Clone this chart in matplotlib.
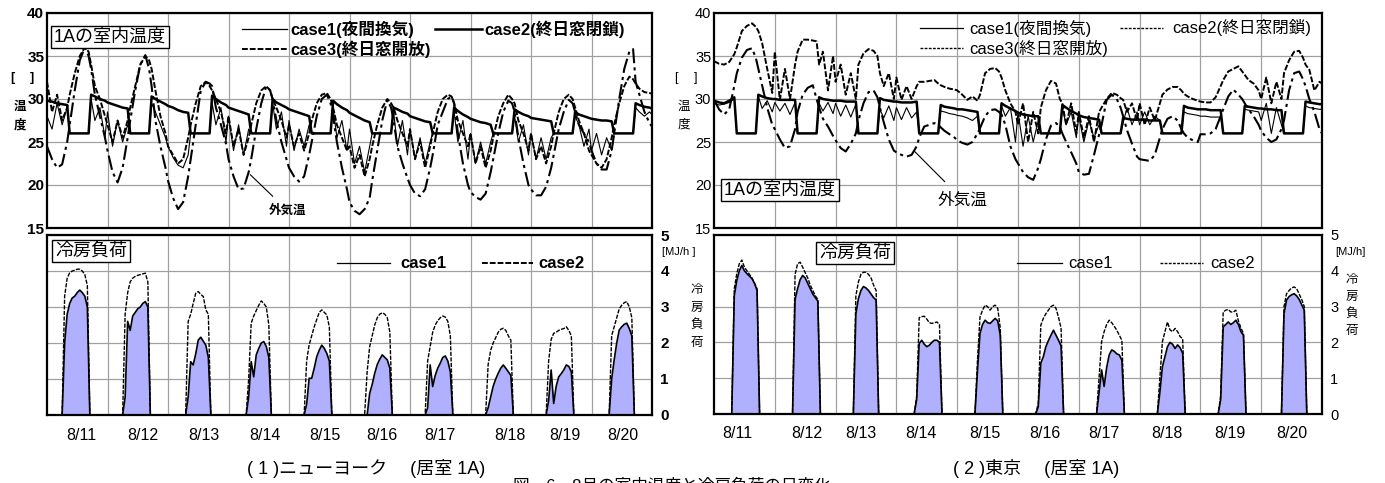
import matplotlib.pyplot as plt
from matplotlib.lines import Line2D

plt.rcParams['font.family'] = ['Liberation Sans', 'Noto Sans CJK JP', 'DejaVu Sans']

# ---- data ---------------------------------------------------------------
# room temperature, sampled at these hours of each day (8/11 .. 8/20)
temp_hours = [0, 2, 4, 6, 8, 9, 11, 13, 15, 16.5, 17.5, 19, 21, 23]
# cooling load, sampled at these hours of each day
load_hours = [6, 7, 8, 9, 10, 11, 12, 13, 14, 15, 16, 17, 18]
days = ['8/11', '8/12', '8/13', '8/14', '8/15', '8/16', '8/17', '8/18', '8/19', '8/20']

# New York
ny_out = [24.5, 23.0, 22.0, 22.4, 25.0, 27.0, 31.0, 34.5, 36.0, 35.0, 33.5, 30.5, 28.0, 25.5,
          24.0, 21.5, 20.3, 22.0, 25.5, 27.5, 31.0, 34.0, 35.1, 33.5, 31.5, 27.5, 24.5, 22.0,
          20.5, 18.5, 17.2, 18.0, 21.0, 23.0, 27.0, 31.0, 32.0, 31.8, 31.5, 29.0, 27.0, 24.8,
          23.0, 21.0, 19.5, 19.6, 21.5, 23.0, 26.5, 29.5, 31.5, 31.0, 30.0, 27.5, 25.0, 23.0,
          22.0, 21.0, 20.4, 21.0, 23.5, 25.0, 28.0, 30.0, 30.5, 29.5, 28.0, 25.0, 22.0, 19.5,
          18.0, 17.0, 16.6, 17.2, 18.5, 20.5, 24.0, 27.5, 29.9, 29.0, 27.5, 24.5, 22.5, 20.8,
          20.0, 19.0, 18.7, 19.5, 22.0, 23.5, 27.0, 28.5, 30.0, 30.3, 29.5, 26.0, 22.5, 20.0,
          19.2, 18.6, 18.3, 19.0, 21.5, 23.0, 26.0, 28.5, 29.8, 29.5, 28.5, 25.5, 22.5, 20.0,
          19.5, 18.8, 18.8, 19.8, 22.0, 23.5, 26.5, 28.5, 29.9, 29.5, 28.5, 27.0, 26.0, 25.0,
          24.0, 22.5, 21.8, 21.8, 24.0, 26.0, 30.0, 33.5, 35.5, 35.8, 32.0, 30.5, 28.5, 27.2,
          26.8]
ny_c3 = [32.0, 28.5, 30.5, 27.5, 29.0, 30.5, 33.0, 35.0, 36.0, 35.5, 34.0, 31.5, 30.0, 28.0,
         27.0, 25.0, 27.5, 25.5, 27.5, 29.0, 31.5, 34.0, 35.0, 34.5, 33.5, 31.0, 28.0, 26.0,
         24.5, 23.5, 22.5, 23.0, 25.5, 27.0, 29.5, 31.5, 32.0, 31.5, 31.0, 30.0, 28.5, 26.0,
         28.0, 24.5, 26.5, 23.5, 25.5, 27.0, 29.5, 31.0, 31.5, 31.0, 30.0, 29.0, 27.5, 25.5,
         27.0, 24.5, 26.0, 24.0, 26.0, 27.5, 29.5, 30.5, 30.7, 30.0, 29.0, 27.0, 25.5, 24.0,
         24.5, 22.0, 23.5, 21.0, 23.0, 24.5, 27.0, 29.0, 30.0, 29.5, 29.0, 27.5, 26.0, 24.5,
         26.5, 23.0, 25.0, 22.0, 24.5, 26.0, 28.5, 30.0, 30.5, 30.3, 29.5, 27.5, 26.0, 24.5,
         26.0, 22.5, 24.5, 22.0, 24.0, 25.5, 28.0, 29.5, 30.5, 30.0, 29.5, 27.5, 26.0, 24.0,
         26.0, 23.0, 24.5, 22.5, 24.5, 26.0, 28.5, 30.0, 30.5, 30.0, 29.0, 27.5, 26.0, 24.0,
         23.5, 22.5, 22.0, 23.0, 25.5, 27.0, 29.5, 31.5, 32.6, 32.3, 31.8, 31.2, 30.8, 30.7,
         30.6]
ny_c2 = [29.8, 29.7, 29.5, 29.4, 29.3, 26, 26, 26, 26, 26, 30.5, 30.3, 30.0, 29.8,
         29.6, 29.4, 29.2, 29.0, 28.9, 26, 26, 26, 26, 26, 30.3, 30.0, 29.7, 29.4,
         29.2, 29.0, 28.7, 28.5, 28.4, 26, 26, 26, 26, 26, 30.4, 30.0, 29.6, 29.3,
         29.0, 28.8, 28.6, 28.4, 28.2, 26, 26, 26, 26, 26, 30.0, 29.6, 29.3, 29.0,
         28.8, 28.6, 28.4, 28.2, 28.0, 26, 26, 26, 26, 26, 29.8, 29.4, 29.0, 28.7,
         28.4, 28.1, 27.8, 27.5, 27.3, 26, 26, 26, 26, 26, 29.0, 28.8, 28.5, 28.3,
         28.0, 27.8, 27.6, 27.4, 27.3, 26, 26, 26, 26, 26, 29.0, 28.6, 28.2, 27.9,
         27.7, 27.5, 27.3, 27.2, 27.0, 26, 26, 26, 26, 26, 28.8, 28.5, 28.2, 28.0,
         27.8, 27.7, 27.6, 27.5, 27.4, 26, 26, 26, 26, 26, 28.5, 28.2, 28.0, 27.8,
         27.7, 27.6, 27.5, 27.5, 27.4, 26, 26, 26, 26, 26, 29.5, 29.3, 29.1, 29.0,
         28.9]
ny_c1 = [28.0, 26.5, 29.5, 27.0, 29.0, 26, 26, 26, 26, 26, 30.0, 27.5, 29.0, 25.5,
         28.5, 24.5, 27.5, 25.0, 27.0, 26, 26, 26, 26, 26, 29.5, 28.5, 27.0, 25.5,
         24.5, 23.2, 22.3, 22.0, 23.5, 26, 26, 26, 26, 26, 29.5, 27.0, 29.0, 25.0,
         28.0, 24.0, 27.0, 23.5, 26.5, 26, 26, 26, 26, 26, 29.5, 26.5, 28.5, 24.5,
         27.5, 24.0, 26.5, 24.5, 27.0, 26, 26, 26, 26, 26, 29.0, 25.5, 27.5, 24.0,
         26.5, 22.5, 24.5, 21.5, 24.5, 26, 26, 26, 26, 26, 28.5, 24.5, 27.5, 23.5,
         26.5, 23.0, 25.5, 22.5, 25.0, 26, 26, 26, 26, 26, 28.5, 25.0, 27.5, 23.0,
         26.0, 22.5, 25.0, 22.5, 25.0, 26, 26, 26, 26, 26, 28.0, 25.0, 27.0, 23.5,
         26.0, 23.0, 25.5, 23.0, 25.5, 26, 26, 26, 26, 26, 28.0, 27.0, 24.5, 26.5,
         24.0, 26.0, 23.5, 25.5, 24.0, 26, 26, 26, 26, 26, 29.0, 28.5, 28.0, 28.5,
         28.2]
ny_load1 = [0, 2.0, 2.8, 3.1, 3.25, 3.3, 3.4, 3.47, 3.4, 3.3, 3.0, 0, 0,
            0, 0.5, 2.6, 2.35, 2.75, 2.85, 2.95, 3.0, 3.1, 3.15, 3.0, 0, 0,
            0, 0, 0.5, 1.48, 1.39, 1.7, 2.08, 2.16, 2.05, 1.94, 1.6, 0, 0,
            0, 0, 0.5, 1.48, 1.06, 1.67, 1.85, 2.0, 2.04, 1.9, 1.6, 0, 0,
            0, 0.3, 1.02, 1.02, 1.3, 1.62, 1.8, 1.94, 1.85, 1.71, 1.5, 0, 0,
            0, 0, 0.6, 0.85, 1.16, 1.4, 1.55, 1.67, 1.6, 1.53, 1.3, 0, 0,
            0, 0.2, 1.39, 0.79, 1.1, 1.3, 1.44, 1.6, 1.64, 1.5, 1.2, 0, 0,
            0, 0.2, 0.5, 0.8, 1.0, 1.16, 1.3, 1.39, 1.3, 1.2, 1.1, 0, 0,
            0, 0.4, 1.25, 0.32, 0.8, 1.06, 1.15, 1.25, 1.39, 1.35, 1.2, 0, 0,
            0, 0, 1.0, 1.53, 2.0, 2.36, 2.45, 2.52, 2.55, 2.4, 2.2, 0, 0]
ny_load2 = [0, 3.3, 3.8, 3.95, 4.0, 4.02, 4.05, 4.05, 4.0, 3.9, 3.6, 0, 0,
            0, 2.8, 3.4, 3.7, 3.8, 3.85, 3.88, 3.9, 3.92, 3.94, 3.7, 0, 0,
            0, 0, 2.6, 2.8, 3.1, 3.38, 3.43, 3.35, 3.29, 2.92, 2.8, 0, 0,
            0, 0, 1.0, 2.55, 2.75, 2.9, 3.05, 3.17, 3.1, 3.0, 2.5, 0, 0,
            0, 1.5, 1.95, 2.2, 2.45, 2.65, 2.85, 2.92, 2.85, 2.78, 2.45, 0, 0,
            0, 1.2, 1.9, 2.2, 2.5, 2.7, 2.8, 2.84, 2.8, 2.7, 2.3, 0, 0,
            0, 1.5, 1.9, 2.3, 2.5, 2.62, 2.7, 2.75, 2.72, 2.6, 2.2, 0, 0,
            0, 1.4, 1.8, 2.0, 2.15, 2.3, 2.38, 2.41, 2.35, 2.2, 2.08, 0, 0,
            0, 1.5, 2.1, 2.27, 2.3, 2.35, 2.38, 2.4, 2.45, 2.35, 2.2, 0, 0,
            0, 0, 2.2, 2.45, 2.7, 2.95, 3.05, 3.12, 3.15, 3.0, 2.7, 0, 0]

# Tokyo
tk_out = [29.9, 28.8, 28.2, 28.8, 31.5, 33.0, 34.8, 35.7, 35.9, 34.8, 33.5, 31.5, 29.0, 27.0,
          26.5, 25.3, 24.3, 24.5, 26.5, 28.5, 30.5, 31.3, 31.6, 30.0, 29.0, 27.7, 26.8, 25.7,
          25.2, 24.3, 23.9, 24.8, 26.0, 27.5, 29.5, 30.8, 31.0, 30.2, 29.0, 27.3, 25.3, 24.0,
          23.8, 23.5, 23.3, 23.5, 24.5, 25.5, 26.8, 27.0, 27.2, 27.0, 26.7, 26.3, 25.9, 25.5,
          25.2, 24.9, 24.7, 25.0, 26.0, 26.6, 28.0, 28.7, 28.8, 28.5, 28.2, 27.0, 24.5, 23.0,
          22.5, 21.5, 20.9, 20.6, 22.0, 23.0, 25.3, 26.9, 27.2, 26.8, 26.0, 25.0, 23.8, 22.5,
          21.5, 21.2, 21.3, 23.5, 25.8, 27.0, 29.9, 30.5, 30.0, 29.0, 28.0, 26.4, 24.8, 23.3,
          23.0, 22.9, 22.8, 23.5, 25.5, 26.5, 27.7, 28.0, 27.5, 26.5, 26.0, 25.5, 25.2, 25.0,
          25.9, 25.9, 26.0, 26.5, 28.0, 28.8, 30.3, 31.1, 30.5, 30.0, 29.5, 28.8, 28.0, 27.0,
          26.3, 25.5, 25.0, 25.3, 26.5, 27.5, 31.0, 33.0, 33.2, 32.3, 31.5, 30.0, 28.5, 26.5,
          26.0]
tk_c3 = [34.4, 34.1, 34.0, 34.3, 35.2, 36.0, 37.9, 38.5, 38.8, 38.4, 37.9, 36.5, 33.5, 30.7,
         35.5, 29.9, 33.5, 30.0, 34.0, 35.5, 36.9, 36.9, 36.8, 36.7, 34.0, 35.5, 31.0, 35.0,
         32.0, 34.0, 30.5, 33.0, 30.0, 34.0, 35.3, 35.8, 35.6, 35.0, 33.0, 31.5, 33.0, 30.0,
         32.5, 29.9, 31.5, 30.0, 31.5, 32.0, 32.0, 32.1, 32.2, 31.8, 31.6, 31.4, 31.2, 31.1,
         31.0, 30.5, 29.9, 30.3, 29.8, 30.5, 33.0, 33.5, 33.6, 33.2, 32.5, 31.0, 29.5, 28.5,
         27.0, 29.5, 25.0, 28.5, 26.0, 29.0, 31.0, 32.1, 31.8, 30.0, 29.5, 27.0, 29.5, 26.0,
         28.5, 25.5, 28.0, 25.0, 28.5, 29.0, 30.0, 30.7, 30.5, 30.1, 29.9, 28.5, 29.5, 27.5,
         29.5, 27.0, 29.0, 27.5, 29.5, 30.5, 31.1, 31.4, 31.4, 31.0, 30.6, 30.3, 30.0, 29.8,
         29.7, 29.6, 29.6, 30.2, 31.5, 32.2, 33.2, 33.5, 33.8, 33.2, 32.8, 32.2, 31.8, 31.0,
         30.0, 32.5, 29.5, 32.0, 30.0, 33.0, 34.5, 35.5, 35.6, 34.8, 34.0, 33.4, 31.0, 32.0,
         31.8]
tk_c2 = [29.8, 29.6, 29.5, 29.8, 30.2, 26, 26, 26, 26, 26, 30.5, 30.3, 30.1, 30.0,
         30.0, 29.9, 29.9, 29.9, 29.9, 26, 26, 26, 26, 26, 30.2, 30.0, 29.9, 29.8,
         29.8, 29.8, 29.7, 29.7, 29.7, 26, 26, 26, 26, 26, 30.1, 29.9, 29.8, 29.7,
         29.7, 29.6, 29.6, 29.6, 29.7, 26, 26, 26, 26, 26, 29.3, 29.1, 29.0, 28.9,
         28.8, 28.8, 28.7, 28.6, 28.5, 26, 26, 26, 26, 26, 29.5, 29.2, 28.9, 28.6,
         28.4, 28.2, 28.1, 28.0, 28.0, 26, 26, 26, 26, 26, 29.3, 29.0, 28.6, 28.3,
         28.1, 27.9, 27.8, 27.7, 27.6, 26, 26, 26, 26, 26, 27.8, 27.7, 27.6, 27.6,
         27.6, 27.6, 27.5, 27.5, 27.5, 26, 26, 26, 26, 26, 29.2, 29.0, 28.9, 28.8,
         28.8, 28.8, 28.7, 28.7, 28.7, 26, 26, 26, 26, 26, 29.2, 29.1, 29.0, 28.9,
         28.9, 28.8, 28.8, 28.7, 28.7, 26, 26, 26, 26, 26, 29.7, 29.6, 29.5, 29.4,
         29.4]
tk_c1 = [29.5, 29.3, 29.4, 29.6, 30.0, 26, 26, 26, 26, 26, 30.3, 28.9, 29.8, 28.5,
         29.6, 28.6, 29.5, 28.2, 29.6, 26, 26, 26, 26, 26, 29.5, 28.6, 29.6, 28.3,
         29.5, 28.0, 29.3, 27.9, 29.4, 26, 26, 26, 26, 26, 28.8, 27.8, 29.2, 27.5,
         29.0, 27.6, 29.0, 27.8, 28.5, 26, 26, 26, 26, 26, 28.6, 28.5, 28.3, 28.2,
         28.1, 28.0, 27.8, 27.5, 28.0, 26, 26, 26, 26, 26, 29.2, 28.0, 29.0, 25.0,
         28.5, 24.5, 28.0, 25.0, 27.5, 26, 26, 26, 26, 26, 29.0, 27.0, 28.5, 25.5,
         28.0, 25.0, 27.5, 25.5, 27.0, 26, 26, 26, 26, 26, 27.2, 29.0, 27.0, 28.5,
         27.0, 28.5, 27.0, 28.0, 27.5, 26, 26, 26, 26, 26, 28.5, 28.3, 28.2, 28.1,
         28.0, 28.0, 27.9, 27.9, 27.9, 26, 26, 26, 26, 26, 28.8, 28.7, 28.6, 28.5,
         27.5, 29.5, 26.0, 29.0, 27.0, 26, 26, 26, 26, 26, 29.2, 29.0, 28.9, 28.8,
         28.8]
tk_load1 = [0, 0, 3.3, 3.73, 4.0, 4.15, 4.0, 3.92, 3.85, 3.78, 3.65, 3.45, 0,
            0, 0, 3.2, 3.5, 3.75, 3.87, 3.8, 3.65, 3.5, 3.35, 3.25, 3.15, 0,
            0, 0, 2.8, 3.22, 3.45, 3.56, 3.52, 3.45, 3.35, 3.25, 3.18, 0, 0,
            0, 0, 0.4, 1.97, 2.06, 1.95, 1.88, 1.92, 2.0, 2.06, 2.06, 2.0, 0,
            0, 0, 1.2, 2.25, 2.5, 2.62, 2.55, 2.53, 2.6, 2.67, 2.6, 2.2, 0,
            0, 0, 0.2, 1.42, 1.6, 1.88, 2.05, 2.2, 2.34, 2.2, 2.06, 1.9, 0,
            0, 0, 0.6, 1.23, 0.77, 1.3, 1.65, 1.79, 1.75, 1.68, 1.65, 1.5, 0,
            0, 0, 0.6, 1.32, 1.6, 1.88, 2.0, 1.95, 1.83, 1.93, 1.85, 1.7, 0,
            0, 0, 0.4, 2.43, 2.5, 2.57, 2.5, 2.55, 2.62, 2.5, 2.3, 2.2, 0,
            0, 0, 0, 2.8, 3.18, 3.28, 3.33, 3.36, 3.3, 3.2, 3.05, 2.9, 0]
tk_load2 = [0, 0, 3.5, 3.92, 4.2, 4.3, 4.1, 4.0, 3.9, 3.8, 3.65, 3.5, 0,
            0, 0, 3.9, 4.2, 4.24, 4.1, 3.95, 3.8, 3.6, 3.45, 3.3, 3.2, 0,
            0, 0, 3.3, 3.69, 3.9, 3.96, 3.96, 3.9, 3.8, 3.6, 3.45, 0, 0,
            0, 0, 0.5, 2.69, 2.72, 2.73, 2.65, 2.55, 2.53, 2.55, 2.57, 2.5, 0,
            0, 0, 1.5, 2.71, 2.9, 3.04, 3.0, 2.9, 3.0, 3.04, 2.95, 2.4, 0,
            0, 0, 0.3, 2.48, 2.67, 2.8, 2.9, 3.0, 3.04, 2.95, 2.7, 2.4, 0,
            0, 0, 1.0, 2.02, 2.3, 2.5, 2.62, 2.55, 2.45, 2.34, 2.2, 2.06, 0,
            0, 0, 1.0, 2.02, 2.3, 2.57, 2.35, 2.3, 2.39, 2.3, 2.16, 2.1, 0,
            0, 0, 0.5, 2.85, 2.9, 2.92, 2.85, 2.85, 2.9, 2.6, 2.4, 2.25, 0,
            0, 0, 0, 3.0, 3.36, 3.45, 3.52, 3.55, 3.5, 3.35, 3.2, 3.0, 0]

# ---- layout ---------------------------------------------------------------
W, H = 1385, 483
fig = plt.figure(figsize=(W / 100, H / 100), dpi=100)


def fx(px):
    return px / W


def fy(py):
    return 1 - py / H


def add_ax(x0, x1, y0, y1):
    return fig.add_axes([fx(x0), fy(y1), (x1 - x0) / W, (y1 - y0) / H])


t_temp = [d + h / 24 for d in range(10) for h in temp_hours] + [10]
t_load = [d + h / 24 for d in range(10) for h in load_hours]

GRID = '#a0a0a0'
LAV = '#b0b0ff'


def style_box(ax):
    for s in ax.spines.values():
        s.set_linewidth(1.6)
    ax.set_xlim(0, 10)
    ax.set_xticks(range(1, 10))
    ax.grid(which='major', color=GRID, lw=0.9)
    ax.tick_params(which='both', length=0)
    ax.set_axisbelow(True)


def temp_panel(ax, c1, c2, c3, out, weight, size):
    ax.plot(t_temp, out, color='k', lw=1.5, ls=(0, (7, 2, 1.5, 2)))
    ax.plot(t_temp, c3, color='k', lw=1.4, ls=(0, (3, 1)))
    ax.plot(t_temp, c2, color='k', lw=1.8)
    ax.plot(t_temp, c1, color='k', lw=0.8)
    style_box(ax)
    ax.set_ylim(15, 40)
    ax.set_yticks(range(15, 41, 5))
    ax.set_xticklabels([])
    ax.tick_params(axis='y', pad=2, labelsize=size)
    for lab in ax.get_yticklabels():
        lab.set_fontweight(weight)


def load_panel(ax, l1, l2, label_pos, weight, size):
    ax.fill_between(t_load, l1, color=LAV, lw=0)
    ax.plot(t_load, l2, color='k', lw=1.0, ls=(0, (3, 1)))
    ax.plot(t_load, l1, color='k', lw=1.2)
    style_box(ax)
    ax.set_ylim(0, 5)
    ax.yaxis.tick_right()
    ax.set_yticks(range(0, 6))
    ax.set_xticklabels([])
    ax.set_xticks(label_pos, minor=True)
    ax.set_xticklabels(days, minor=True, fontsize=11.5)
    ax.tick_params(axis='x', which='minor', pad=9)
    ax.tick_params(axis='y', pad=6, labelsize=size)
    for lab in ax.get_yticklabels():
        lab.set_fontweight(weight)


def legend_line(x0, x1, y, **kw):
    fig.add_artist(Line2D([fx(x0), fx(x1)], [fy(y), fy(y)], color='k', **kw))


def ftext(px, py, s, **kw):
    fig.text(fx(px), fy(py), s, **kw)


box = dict(boxstyle='square,pad=0.15', fc='white', ec='black', lw=1.0)

# New York panels
ax1 = add_ax(47, 652, 13, 228)
temp_panel(ax1, ny_c1, ny_c2, ny_c3, ny_out, 'bold', 11)
ax2 = add_ax(47, 652, 235, 415)
load_panel(ax2, ny_load1, ny_load2,
           [0.57, 1.58, 2.59, 3.6, 4.6, 5.54, 6.5, 7.65, 8.56, 9.52], 'bold', 11)

# Tokyo panels
ax3 = add_ax(714, 1322, 13, 228)
temp_panel(ax3, tk_c1, tk_c2, tk_c3, tk_out, 'normal', 10.5)
ax4 = add_ax(714, 1322, 235, 414)
load_panel(ax4, tk_load1, tk_load2,
           [0.39, 1.52, 2.42, 3.4, 4.46, 5.44, 6.41, 7.45, 8.49, 9.51], 'normal', 10.5)

# ---- legends ----------------------------------------------------------------
legend_line(242, 287, 29, lw=0.9)
ftext(290, 29, 'case1(夜間換気)', fontsize=12, fontweight='bold', va='center')
legend_line(435, 482, 29, lw=1.8)
ftext(484, 29, 'case2(終日窓閉鎖)', fontsize=12, fontweight='bold', va='center')
legend_line(242, 287, 49, lw=1.4, ls=(0, (3, 1)))
ftext(290, 49, 'case3(終日窓開放)', fontsize=12, fontweight='bold', va='center')
legend_line(337, 390, 263, lw=0.9)
ftext(400, 263, 'case1', fontsize=12, fontweight='bold', va='center')
legend_line(482, 533, 263, lw=1.4, ls=(0, (3, 1)))
ftext(538, 263, 'case2', fontsize=12, fontweight='bold', va='center')

legend_line(920, 963, 28, lw=0.9)
ftext(969, 28, 'case1(夜間換気)', fontsize=12, va='center')
legend_line(1120, 1163, 28, lw=1.0, ls=(0, (2, 1)))
ftext(1172, 28, 'case2(終日窓閉鎖)', fontsize=12, va='center')
legend_line(920, 963, 48, lw=1.0, ls=(0, (2, 1)))
ftext(969, 48, 'case3(終日窓開放)', fontsize=12, va='center')
legend_line(1017, 1062, 263, lw=0.9)
ftext(1068, 263, 'case1', fontsize=12, va='center')
legend_line(1160, 1203, 263, lw=1.0, ls=(0, (2, 1)))
ftext(1210, 263, 'case2', fontsize=12, va='center')

# ---- panel labels ---------------------------------------------------------
ftext(110, 37, '1Aの室内温度', fontsize=13, ha='center', va='center', bbox=box)
ftext(91, 251, '冷房負荷', fontsize=13, ha='center', va='center', bbox=box)
ftext(780, 190, '1Aの室内温度', fontsize=13, ha='center', va='center', bbox=box)
ftext(855, 253, '冷房負荷', fontsize=13, ha='center', va='center', bbox=box)

ax1.annotate('外気温', xy=(3.36, 21.2), xycoords='data',
             xytext=(fx(288), fy(211)), textcoords='figure fraction',
             fontsize=9, fontweight='bold', ha='center', va='center',
             arrowprops=dict(arrowstyle='-', color='k', lw=0.8, shrinkB=0, shrinkA=6))
ax3.annotate('外気温', xy=(3.3, 23.9), xycoords='data',
             xytext=(fx(963), fy(200)), textcoords='figure fraction',
             fontsize=12, ha='center', va='center',
             arrowprops=dict(arrowstyle='-', color='k', lw=0.8, shrinkB=0, shrinkA=8))

# ---- axis titles -------------------------------------------------------------
for px, wt in ((12, 'bold'), (676, 'normal')):
    ftext(px, 78, '[', fontsize=9, fontweight=wt, ha='center', va='center')
    ftext(px + 20, 78, ']', fontsize=9, fontweight=wt, ha='center', va='center')
    ftext(px + 8, 107, '温', fontsize=9, fontweight=wt, ha='center', va='center')
    ftext(px + 8, 125, '度', fontsize=9, fontweight=wt, ha='center', va='center')

ftext(679, 252, '[MJ/h ]', fontsize=8, ha='center', va='center')
for i, ch in enumerate('冷房負荷'):
    ftext(697, 290 + 17.5 * i, ch, fontsize=9, ha='center', va='center')
ftext(1350, 252, '[MJ/h]', fontsize=8, ha='center', va='center')
for i, ch in enumerate('冷房負荷'):
    ftext(1352, 280 + 17 * i, ch, fontsize=9, ha='center', va='center')

# ---- captions -----------------------------------------------------------------
ftext(247, 468, '( 1 )ニューヨーク　 (居室 1A)', fontsize=13, va='center')
ftext(953, 468, '( 2 )東京　 (居室 1A)', fontsize=13, va='center')
# the figure caption is cut by the lower edge, as in the original
ftext(513, 478, '図－6　8月の室内温度と冷房負荷の日変化', fontsize=12, va='top')

fig.savefig('out.png', dpi=100)
